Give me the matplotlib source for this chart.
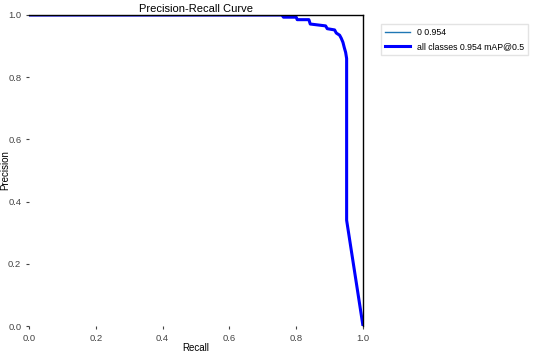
import matplotlib
matplotlib.use('Agg')
import matplotlib.pyplot as plt

plt.rcParams['font.family'] = ['Liberation Sans', 'DejaVu Sans']

# punkty krzywej
recall = [0.0, 0.757, 0.762, 0.800, 0.803, 0.838, 0.842, 0.888, 0.893, 0.915, 0.920,
          0.930, 0.935, 0.940, 0.944, 0.948, 0.951, 0.951, 1.0]
precision = [1.0, 1.0, 0.993, 0.993, 0.985, 0.985, 0.971, 0.965, 0.956, 0.952, 0.942,
             0.935, 0.925, 0.912, 0.895, 0.880, 0.860, 0.340, 0.0]
etykieta_klasy = '0 0.954'
etykieta_all = 'all classes 0.954 mAP@0.5'

fig = plt.figure(figsize=(5.34, 3.52), dpi=100)
ax = fig.add_axes([29/534, 1 - 326/352, 334/534, 311/352])

ax.plot(recall, precision, linewidth=1, color='tab:blue', label=etykieta_klasy)
ax.plot(recall, precision, linewidth=2.2, color='blue', label=etykieta_all)

ax.set_xlim(0, 1)
ax.set_ylim(0, 1)
ax.set_xticks([0.0, 0.2, 0.4, 0.6, 0.8, 1.0])
ax.set_yticks([0.0, 0.2, 0.4, 0.6, 0.8, 1.0])
ax.tick_params(labelsize=6.8, colors='#444444', length=2, width=0.8)
for s in ['left', 'bottom']:
    ax.spines[s].set_visible(False)
for s in ['top', 'right']:
    ax.spines[s].set_color('black')
    ax.spines[s].set_linewidth(1)

ax.set_xlabel('Recall', fontsize=7, labelpad=0)
ax.set_ylabel('Precision', fontsize=7)
ax.yaxis.set_label_coords(-0.056, 0.5)
ax.set_title('Precision-Recall Curve', fontsize=8, pad=2)

ax.legend(bbox_to_anchor=(1.04, 0.985), loc='upper left', fontsize=6.3, frameon=True,
          edgecolor='#dddddd', fancybox=False, handlelength=2.8, borderpad=0.5)

fig.savefig('out.png', dpi=100)
plt.close(fig)
